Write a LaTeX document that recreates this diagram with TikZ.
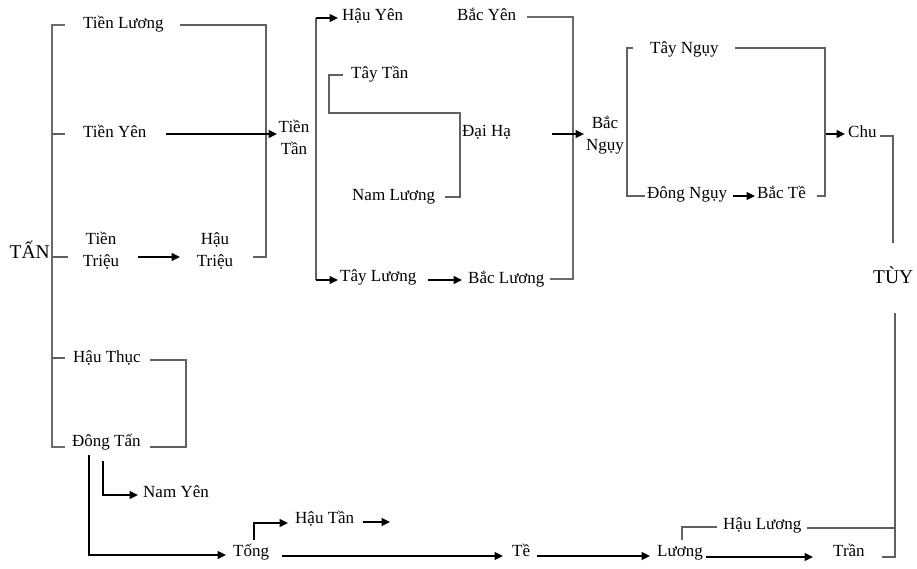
\documentclass[tikz,border=0pt]{standalone}
\usepackage{fontspec}
\setmainfont{Liberation Serif}
\usetikzlibrary{arrows.meta}
\begin{document}
\begin{tikzpicture}[x=1pt,y=-1pt,
 lbl/.style={font=\fontsize{17}{22}\selectfont, inner sep=0pt, anchor=west, text height=11pt, text depth=4pt},
 lbltwo/.style={font=\fontsize{17}{22}\selectfont, inner sep=0pt, align=center},
 big/.style={font=\fontsize{19.5}{22}\selectfont, inner sep=0pt},
 ln/.style={draw=black!62, line width=1.3pt},
 bar/.style={draw=black!58, line width=2.3pt},
 arr/.style={draw=black, line width=1.6pt, -{Triangle[length=8.5pt,width=8pt]}},
]
\useasboundingbox[fill=white] (0,0) rectangle (917,568);

% ---------- nodes ----------
\node[big, anchor=base east] (tan) at (50,258) {TẤN};
\node[big, anchor=base west] (tuy) at (873,283) {TÙY};

\node[lbl] (tl) at (83,25) {Tiền Lương};
\node[lbl] (ty) at (83,134) {Tiền Yên};
\node[lbltwo] (ttr) at (101,251) {Tiền\\Triệu};
\node[lbltwo] (htr) at (215,251) {Hậu\\Triệu};
\node[lbl] (hth) at (73,359) {Hậu Thục};
\node[lbl] (dt) at (72,443) {Đông Tấn};
\node[lbl] (ny) at (143,494) {Nam Yên};
\node[lbl] (tong) at (233,553) {Tống};
\node[lbl] (htan) at (295,520) {Hậu Tần};
\node[lbl] (te) at (512,553) {Tề};
\node[lbl] (luong) at (657,553) {Lương};
\node[lbl] (hl) at (723,526) {Hậu Lương};
\node[lbl] (tran) at (833,553) {Trần};
\node[lbl] (chu) at (848,134) {Chu};
\node[lbl] (tayn) at (650,50) {Tây Ngụy};
\node[lbl] (dn) at (647,195) {Đông Ngụy};
\node[lbl] (bt) at (757,195) {Bắc Tề};
\node[lbltwo] (bn) at (605,135) {Bắc\\Ngụy};
\node[lbltwo] (tt) at (294,137) {Tiền\\Tần};
\node[lbl] (hy) at (342,17) {Hậu Yên};
\node[lbl] (by) at (457,17) {Bắc Yên};
\node[lbl] (taytan) at (351,75) {Tây Tần};
\node[lbl] (nl) at (352,197) {Nam Lương};
\node[lbl] (dh) at (462,133) {Đại Hạ};
\node[lbl] (tayl) at (340,278) {Tây Lương};
\node[lbl] (bl) at (468,280) {Bắc Lương};

% ---------- named corner / end coordinates ----------
\coordinate (lbT) at (52,25);  \coordinate (lbB) at (52,447);
\coordinate (tlE) at (180,25); \coordinate (tlC) at (266,257); \coordinate (htrE) at (253,257);
\coordinate (tyE) at (166,134); \coordinate (ttW) at (277,134);
\coordinate (ttrE) at (138,257); \coordinate (htrW) at (180,257);
\coordinate (hthE) at (150,360); \coordinate (hthC) at (186,447); \coordinate (dtE) at (150,447);
\coordinate (dtD1) at (89,455); \coordinate (tongW) at (226,555);
\coordinate (dtD2) at (103,461); \coordinate (nyW) at (138,495);
\coordinate (tongU) at (254,540); \coordinate (htanW) at (288,523);
\coordinate (htanE) at (363,522); \coordinate (htanX) at (390,522);
\coordinate (tongE) at (282,556); \coordinate (teW) at (503,556);
\coordinate (teE) at (537,556); \coordinate (luongW) at (650,556);
\coordinate (luongE) at (706,557); \coordinate (tranW) at (813,557);
\coordinate (tranE) at (882,557); \coordinate (tuyB) at (895,313);
\coordinate (luongU) at (682,540); \coordinate (hlW) at (717,527);
\coordinate (hlE) at (807,528); \coordinate (hlX) at (895,528);
\coordinate (chuE) at (880,136); \coordinate (tuyT) at (893,243);
\coordinate (chuA) at (825,134); \coordinate (chuW) at (845,134);
\coordinate (bnT) at (627,48); \coordinate (bnB) at (627,196);
\coordinate (taynE) at (735,48); \coordinate (btC) at (825,196); \coordinate (btE) at (817,196);
\coordinate (dnE) at (733,196); \coordinate (btW) at (755,196);
\coordinate (byE) at (527,17); \coordinate (blC) at (573,279); \coordinate (blE) at (550,279);
\coordinate (bnA) at (552,134); \coordinate (bnW) at (584,134);
\coordinate (mbT) at (316,18); \coordinate (mbB) at (316,280);
\coordinate (hyW) at (338,18); \coordinate (taylW) at (338,280);
\coordinate (taytanW) at (343,75); \coordinate (dhC) at (460,113); \coordinate (nlE) at (445,197);
\coordinate (taylE) at (428,280); \coordinate (blW) at (462,280);

% ---------- connectors ----------
% left bracket of TAN
\draw[bar] ([xshift=13pt]lbT) -- (lbT) -- (lbB) -- ([xshift=13pt]lbB);
\draw[ln] (lbT |- tyE) -- ++(13,0);
\draw[ln] (lbT |- tlC) -- ++(16,0);
\draw[ln] (52,358) -- (65,358);

\draw[ln] (tlE) -| (tlC) -- (htrE);
\draw[arr] (tyE) -- (ttW);
\draw[arr] (ttrE) -- (htrW);
\draw[ln] (hthE) -| (hthC) -- (dtE);
\draw[arr] (dtD1) |- (tongW);
\draw[arr] (dtD2) |- (nyW);
\draw[arr] (tongU) |- (htanW);
\draw[arr] (htanE) -- (htanX);
\draw[arr] (tongE) -- (teW);
\draw[arr] (teE) -- (luongW);
\draw[arr] (luongE) -- (tranW);
\draw[ln] (tranE) -| (tuyB);
\draw[ln] (luongU) |- (hlW);
\draw[ln] (hlE) -- (hlX);
\draw[ln] (chuE) -| (tuyT);
\draw[arr] (chuA) -- (chuW);

% Bac Nguy bracket
\draw[ln] ([xshift=6pt]bnT) -- (bnT) -- (bnB) -- ([xshift=18pt]bnB);
\draw[ln] (taynE) -| (btC) -- (btE);
\draw[arr] (dnE) -- (btW);

% big bracket to Bac Nguy
\draw[bar] (byE) -| (blC) -- (blE);
\draw[arr] (bnA) -- (bnW);

% Tien Tan bracket
\draw[ln] (mbT) -- (mbB);
\draw[arr] (mbT) -- (hyW);
\draw[arr] (mbB) -- (taylW);
\draw[ln] (taytanW) -- (329,75) |- (dhC) -- (460,197) -- (nlE);
\draw[arr] (taylE) -- (blW);
\end{tikzpicture}
\end{document}
